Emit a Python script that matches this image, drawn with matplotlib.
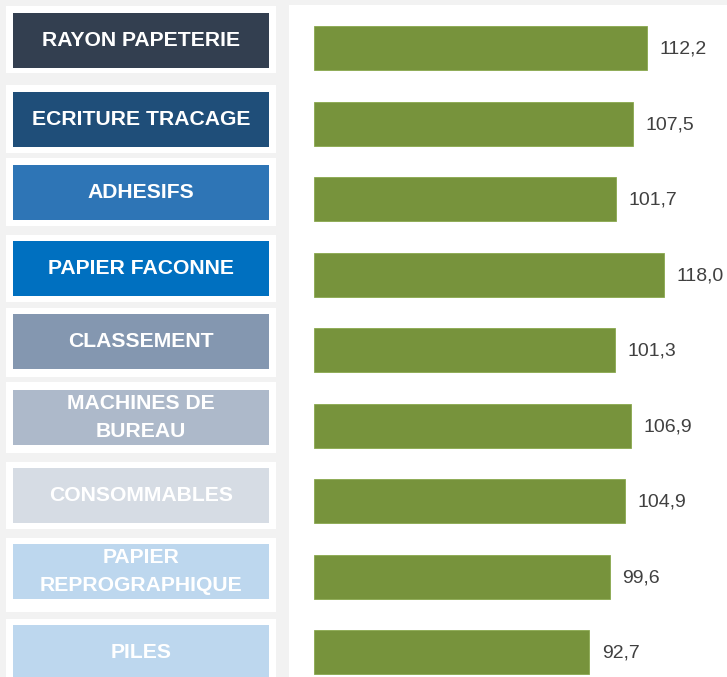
import matplotlib
matplotlib.use("Agg")
import matplotlib.pyplot as plt
from matplotlib.patches import Rectangle

plt.rcParams['font.family'] = ['Liberation Sans', 'DejaVu Sans']

categories = ["RAYON PAPETERIE", "ECRITURE TRACAGE", "ADHESIFS", "PAPIER FACONNE",
              "CLASSEMENT", "MACHINES DE\nBUREAU", "CONSOMMABLES",
              "PAPIER\nREPROGRAPHIQUE", "PILES"]
values = [112.2, 107.5, 101.7, 118.0, 101.3, 106.9, 104.9, 99.6, 92.7]
value_labels = ["112,2", "107,5", "101,7", "118,0", "101,3", "106,9", "104,9", "99,6", "92,7"]
box_colors = ["#333F50", "#1F4E79", "#2E75B6", "#0070C0", "#8497B0",
              "#ADB9CA", "#D6DCE4", "#BDD7EE", "#BDD7EE"]

# layout of the label boxes (pixel rows): white frame top/bottom, coloured top
frame_top = [6, 85, 158, 235, 308, 382, 462, 538, 619]
frame_bot = [73, 153, 226, 302, 377, 453, 529, 612, 690]
fill_top = [13, 92, 165, 241, 314, 390, 468, 544, 625]
fill_h = 55

W, H, DPI = 727, 677, 100
fig = plt.figure(figsize=(W / DPI, H / DPI), dpi=DPI, facecolor="#F2F2F2")

# white panel behind bars
panel = fig.add_axes([289 / W, 0, (W - 289) / W, (H - 5) / H])
panel.set_facecolor("white")
panel.set_xticks([]); panel.set_yticks([])
for s in panel.spines.values():
    s.set_visible(False)
panel.set_zorder(0)

# y scale: category index -> pixel (center 48 + 75.5*i)
step = 75.5
y_top = -48 / step
y_bot = (H - 48) / step

# bars axis: x=0 at px 314, 2.968 px per unit
px_per_unit = 2.968
ax = fig.add_axes([314 / W, 0, (W - 314) / W, 1])
ax.set_zorder(2)
ax.set_xlim(0, (W - 314) / px_per_unit)
ax.set_ylim(y_bot, y_top)
ax.patch.set_visible(False)
ypos = list(range(len(values)))
ax.barh(ypos, values, height=44 / step, color="#77933C", edgecolor="#8AA84E", linewidth=0.6)
for y, v, lab in zip(ypos, values, value_labels):
    ax.annotate(lab, (v, y), xytext=(9, -1), textcoords="offset points",
                va="center", ha="left", fontsize=14, color="#404040")
ax.axis("off")

# left label boxes (pixel coordinates, y downward)
axl = fig.add_axes([0, 0, 289 / W, 1])
axl.set_zorder(2)
axl.set_xlim(0, 289)
axl.set_ylim(H, 0)
axl.patch.set_visible(False)
axl.axis("off")
for cat, col, ft, fb, ct in zip(categories, box_colors, frame_top, frame_bot, fill_top):
    axl.add_patch(Rectangle((6, ft), 270, fb - ft, facecolor="white", edgecolor="none"))
    axl.add_patch(Rectangle((13, ct), 256, fill_h, facecolor=col, edgecolor="none"))
    axl.text(141, ct + fill_h / 2, cat, ha="center", va="center", color="white",
             fontsize=15.2, fontweight="bold", linespacing=1.55)

fig.savefig("out.png", dpi=DPI, facecolor=fig.get_facecolor())
